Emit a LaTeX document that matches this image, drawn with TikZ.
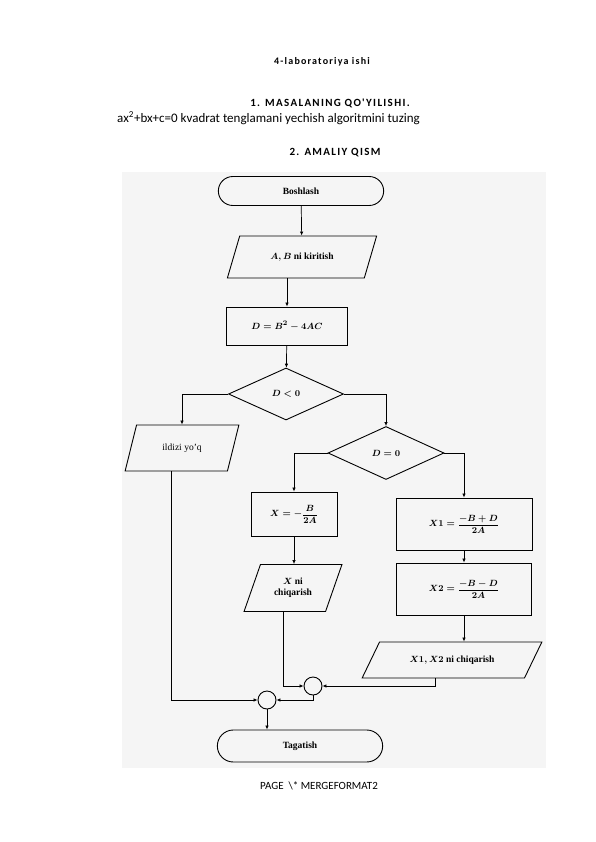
\documentclass[tikz,border=0pt]{standalone}
\usepackage{fontspec}
\setmainfont{Liberation Serif}
\newfontfamily\hdrfont{Carlito}
\newfontfamily\hdrwide[LetterSpace=12]{Carlito}
\usepackage{amsmath}
\usepackage{tikz}
\usetikzlibrary{arrows.meta}
\usetikzlibrary{shapes}
\usetikzlibrary{positioning}
\usetikzlibrary{calc}
\tikzstyle{terminal}=[draw,rounded rectangle,line width=0.9pt,minimum width=172pt,minimum height=29pt,font=\fontsize{9.5}{10}\selectfont\bfseries]
\tikzstyle{proc}=[draw,rectangle,line width=0.9pt,inner sep=2pt,font=\fontsize{9.5}{10}\selectfont\boldmath]
\tikzstyle{io}=[draw,trapezium,trapezium stretches=true,line width=0.9pt,inner sep=1pt,font=\fontsize{9.5}{11}\selectfont\bfseries\boldmath,align=center]
\tikzstyle{decision}=[draw,diamond,line width=0.9pt,inner sep=0pt,font=\fontsize{9.5}{10}\selectfont\boldmath]
\tikzstyle{merge}=[draw,circle,line width=0.9pt,minimum size=18pt,inner sep=0pt]
\tikzstyle{flow}=[line width=0.7pt,-{Latex[length=4pt,width=3.5pt]}]

\begin{document}
\begin{tikzpicture}[x=1pt,y=-1pt]
\useasboundingbox (0,0) rectangle (595,842);
\fill[black!4] (122,172) rectangle (546,768);

% header text
\node (title) at (322,62) {\hdrwide\fontsize{10}{11}\selectfont\bfseries 4-laboratoriya ishi};
\node (task) at (330,103) {\hdrwide\fontsize{11}{12}\selectfont\bfseries 1. MASALANING QO'YILISHI.};
\node[anchor=west,inner sep=0pt] (eq) at (117,118) {\hdrfont\fontsize{13}{14}\selectfont ax\textsuperscript{2}+bx+c=0 kvadrat tenglamani yechish algoritmini tuzing};
\node (part) at (335,153) {\hdrwide\fontsize{11}{12}\selectfont\bfseries 2. AMALIY QISM};

% flowchart
\node [terminal] (start) at (301,191) {Boshlash};
\node [io,trapezium left angle=58,trapezium right angle=122,minimum width=150pt,minimum height=42pt] (ab) at (302,257) {$A,B$ ni kiritish};
\node [proc,minimum width=121pt,minimum height=38pt] (disc) at (287,326) {$D=B^2-4AC$};
\node [decision,minimum width=115pt,minimum height=52pt] (dlt) at (286,394) {$D<0$};
\node [io,font=\fontsize{9.5}{10}\selectfont,trapezium left angle=64,trapezium right angle=116,minimum width=114pt,minimum height=46pt] (noroot) at (182,448) {ildizi yo'q};
\node [decision,minimum width=116pt,minimum height=53pt] (deq) at (386,453) {$D=0$};
\node [proc,minimum width=86pt,minimum height=44pt] (xone) at (294,514) {$X=-\dfrac{B}{2A}$};
\node [proc,minimum width=136pt,minimum height=52pt] (xa) at (464,524) {$X1=\dfrac{-B+D}{2A}$};
\node [proc,minimum width=135pt,minimum height=52pt] (xb) at (464,589) {$X2=\dfrac{-B-D}{2A}$};
\node [io,trapezium left angle=65,trapezium right angle=115,minimum width=98pt,minimum height=47pt] (xout) at (293,588) {$X$ ni\\chiqarish};
\node [io,trapezium left angle=45.5,trapezium right angle=134.5,minimum width=180pt,minimum height=36pt] (xyout) at (452,660) {$X1,X2$ ni chiqarish};
\node [merge] (m2) at (313,686) {};
\node [merge] (m1) at (267,700) {};
\node [terminal,minimum height=32pt] (stop) at (300,746) {Tagatish};

\node (foot) at (319,786) {\hdrfont\fontsize{11}{12}\selectfont PAGE \ \textbackslash* MERGEFORMAT2};

% connectors
\draw [flow] (start) -- (ab);
\draw [flow] (disc.north |- ab.south) -- (disc);
\draw [flow] (disc) -- (dlt);
\draw [flow] (dlt.west) -| (noroot.north);
\draw [flow] (dlt.east) -| (deq.north);
\draw [flow] (deq.west) -| (xone.north);
\draw [flow] (deq.east) -| (xa.north);
\draw [flow] (xone.south) -- (xone.south |- xout.north);
\draw [flow] (xa) -- (xb);
\draw [flow] (xb.south) -- (xb.south |- xyout.north);
\draw [flow] ([xshift=-11pt]noroot.south) |- (m1.west);
\draw [flow] ([xshift=-10pt]xout.south) |- (m2.west);
\draw [flow] ([xshift=-17pt]xyout.south) |- (m2.east);
\draw [flow] (m2.south) |- (m1.east);
\draw [flow] (m1) -- (m1 |- stop.north);
\end{tikzpicture}
\end{document}
